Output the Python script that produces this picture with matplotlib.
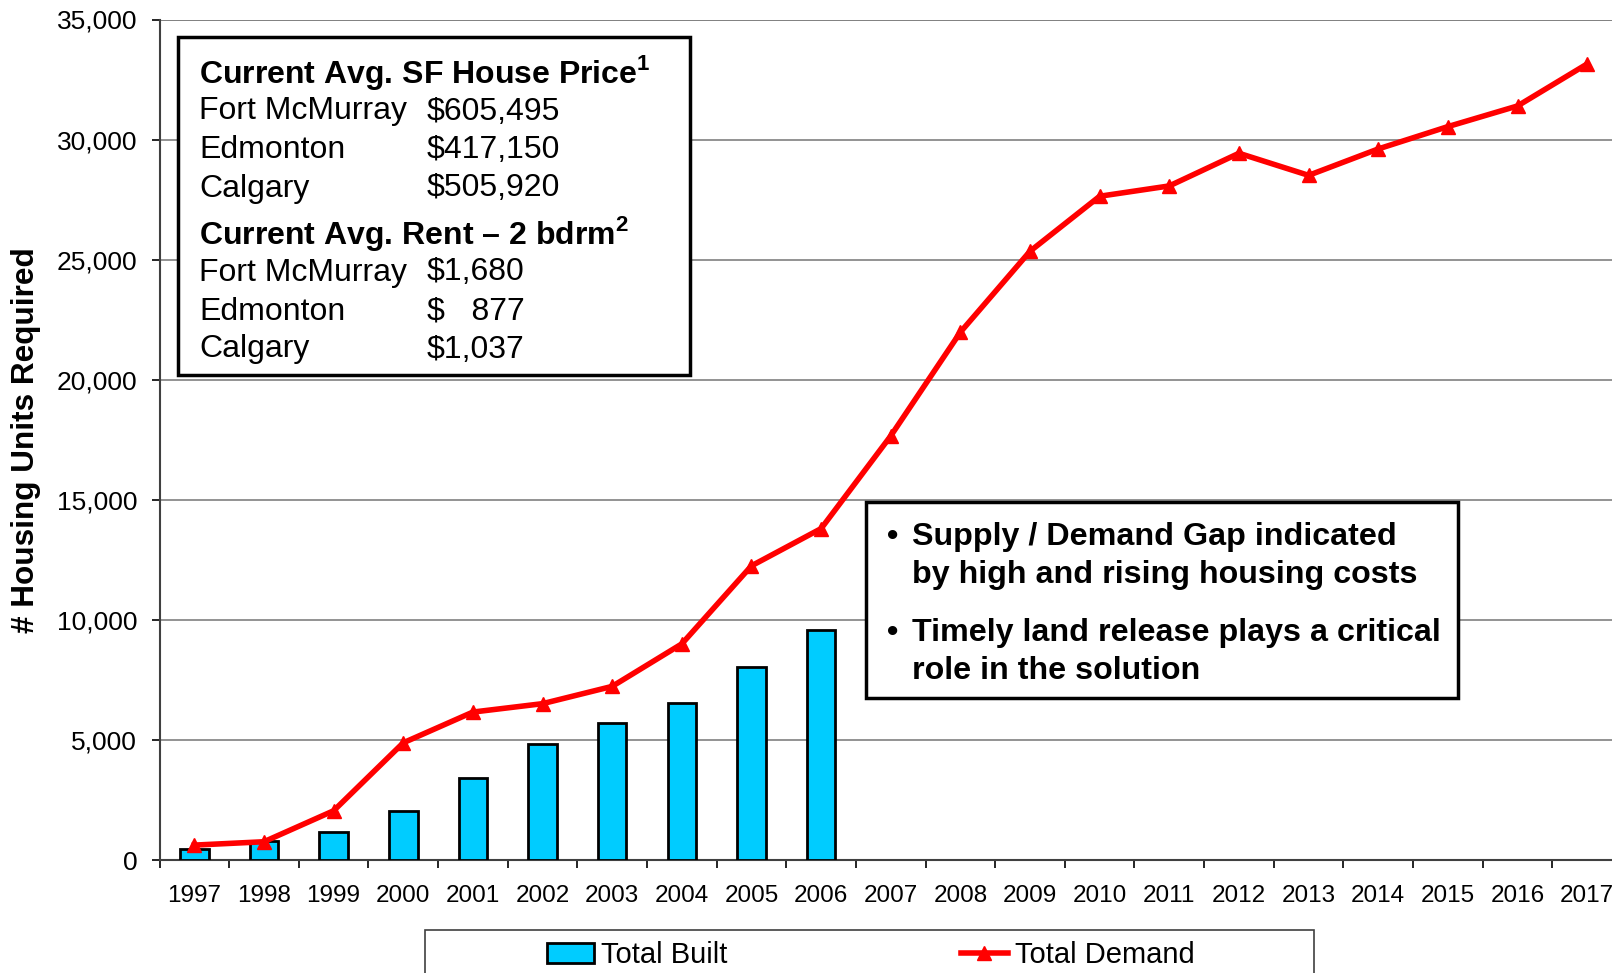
import matplotlib
matplotlib.use("Agg")
import matplotlib.pyplot as plt
from matplotlib.patches import Rectangle
from matplotlib.ticker import FuncFormatter, FixedLocator

plt.rcParams['font.family'] = ['Liberation Sans', 'DejaVu Sans']
plt.rcParams['mathtext.fontset'] = 'custom'
plt.rcParams['mathtext.rm'] = 'Liberation Sans:bold'
plt.rcParams['mathtext.bf'] = 'Liberation Sans:bold'

years = [str(y) for y in range(1997, 2018)]
built_years = years[:10]
total_built = [440, 800, 1180, 2050, 3420, 4820, 5690, 6550, 8020, 9570]
total_demand = [620, 760, 2050, 4880, 6160, 6510, 7230, 9000, 12250, 13800,
                17660, 21980, 25350, 27640, 28070, 29430, 28510, 29610,
                30540, 31400, 33150]

box1_labels = ["Fort McMurray", "Edmonton", "Calgary"]
house_prices = ["$605,495", "$417,150", "$505,920"]
rents = ["$1,680", "$   877", "$1,037"]
gap_bullets = [["Supply / Demand Gap indicated", "by high and rising housing costs"],
               ["Timely land release plays a critical", "role in the solution"]]

W, H = 1612, 973
fig = plt.figure(figsize=(W / 100, H / 100), dpi=100)

def fx(x):
    return x / W

def fy(y):
    return 1 - y / H

left, right, top, bottom = 159.5, 1622, 19.5, 860
ax = fig.add_axes([fx(left), fy(bottom), (right - left) / W, (bottom - top) / H])

x_all = list(range(len(years)))
x_built = list(range(len(built_years)))
bars = ax.bar(x_built, total_built, width=0.41, color='#00CCFF', edgecolor='black',
              linewidth=2, zorder=3, label='Total Built')
line, = ax.plot(x_all, total_demand, color='#FF0000', lw=4, marker='^', markersize=10,
                zorder=4, label='Total Demand')

ax.set_xlim(-0.5, len(years) - 0.5)
ax.set_ylim(0, 35000)
ax.set_yticks(range(0, 35001, 5000))
ax.yaxis.set_major_formatter(FuncFormatter(lambda v, p: f"{int(v):,}"))
ax.set_xticks(x_all)
ax.set_xticklabels(years)
ax.xaxis.set_minor_locator(FixedLocator([i + 0.5 for i in range(-1, len(years))]))
ax.tick_params(axis='x', which='major', length=0, pad=18, labelsize=17.5)
ax.tick_params(axis='x', which='minor', length=6, width=1.2, color='black')
ax.tick_params(axis='y', which='major', length=6, width=1.2, pad=10, labelsize=19)
ax.grid(axis='y', color='#808080', lw=1.2, zorder=0)
ax.set_axisbelow(True)
for s in ['top', 'right']:
    ax.spines[s].set_visible(False)
ax.spines['left'].set_color('#404040')
ax.spines['left'].set_linewidth(1.5)
ax.spines['bottom'].set_color('#404040')
ax.spines['bottom'].set_linewidth(1.5)
ax.axhline(35000, color='#808080', lw=1.2, zorder=0)

fig.text(fx(26), fy(440), "# Housing Units Required", rotation=90, fontsize=22.7,
         fontweight='bold', ha='center', va='center')

# Box 1
fig.add_artist(Rectangle((fx(178), fy(375)), (690 - 178) / W, (375 - 37) / H,
                         transform=fig.transFigure, facecolor='white',
                         edgecolor='black', lw=2.5, zorder=5))
fs = 23
ys1 = [68, 108, 147, 185, 229, 269, 308, 346]
fig.text(fx(199), fy(ys1[0]), r"Current Avg. SF House Price$^{1}$", fontsize=fs,
         fontweight='bold', va='center_baseline', zorder=6)
for i in range(3):
    fig.text(fx(199), fy(ys1[1 + i]), box1_labels[i], fontsize=fs, va='center_baseline', zorder=6)
    fig.text(fx(427), fy(ys1[1 + i]), house_prices[i], fontsize=fs, va='center_baseline', zorder=6)
fig.text(fx(199), fy(ys1[4]), "Current Avg. Rent \u2013 2 bdrm$^{2}$", fontsize=fs,
         fontweight='bold', va='center_baseline', zorder=6)
for i in range(3):
    fig.text(fx(199), fy(ys1[5 + i]), box1_labels[i], fontsize=fs, va='center_baseline', zorder=6)
    fig.text(fx(427), fy(ys1[5 + i]), rents[i], fontsize=fs, va='center_baseline', zorder=6)

# Box 2
fig.add_artist(Rectangle((fx(866), fy(698)), (1458 - 866) / W, (698 - 502) / H,
                         transform=fig.transFigure, facecolor='white',
                         edgecolor='black', lw=2.5, zorder=5))
fs2 = 23.2
ys2 = [[533.5, 571.6], [629.1, 667.2]]
for b, lines in enumerate(gap_bullets):
    fig.text(fx(887), fy(ys2[b][0]), "\u2022", fontsize=fs2, fontweight='bold',
             va='center_baseline', zorder=6)
    for j, t in enumerate(lines):
        fig.text(fx(912), fy(ys2[b][j]), t, fontsize=fs2, fontweight='bold',
                 va='center_baseline', zorder=6)

# Legend
fig.add_artist(Rectangle((fx(425), fy(990)), (1314 - 425) / W, (990 - 930) / H,
                         transform=fig.transFigure, facecolor='white',
                         edgecolor='#404040', lw=1.2, zorder=5))
leg = fig.legend(handles=[bars, line], loc='center', ncol=2, frameon=False,
                 bbox_to_anchor=(fx(871), fy(955)), fontsize=21,
                 handlelength=1.6, handletextpad=0.25, columnspacing=8.0)
leg.set_zorder(6)

fig.savefig("out.png", dpi=100)
